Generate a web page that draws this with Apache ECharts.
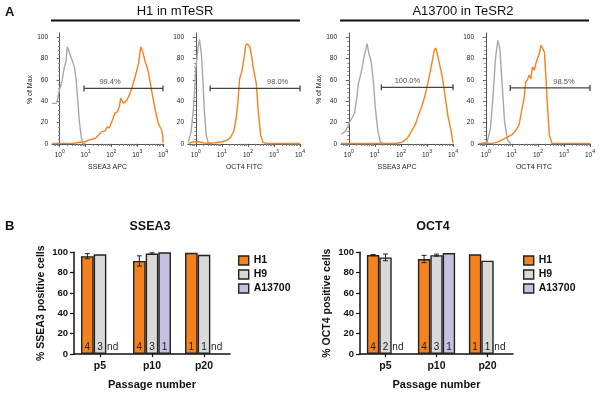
<!DOCTYPE html>
<html><head><meta charset="utf-8">
<script src="https://cdn.jsdelivr.net/npm/echarts@6/dist/echarts.min.js"></script>
<style>html,body{margin:0;padding:0;background:#fff}#c{width:600px;height:398px}</style>
</head><body><div id="c"></div>
<script>
// ===== Panel A: flow cytometry histograms. x = log10(fluorescence) in decades, y = % of Max
const h1SseaIso = [[-0.3,38],[-0.25,37],[-0.14,38],[-0.09,41],[-0.02,50],[0.08,58],[0.17,71],[0.24,77],[0.29,91],[0.33,89],[0.37,86],[0.43,86],[0.50,77],[0.57,72],[0.63,61],[0.70,40],[0.76,21],[0.83,7],[0.89,0.5],[1.0,0]];
const h1SseaPos = [[-0.3,0.5],[0.53,0.5],[0.79,1.5],[0.98,2],[1.17,4],[1.37,5],[1.50,8],[1.63,11.5],[1.75,12],[1.84,16],[1.92,15],[2.02,21],[2.14,29],[2.23,30],[2.31,35],[2.36,43],[2.47,38],[2.60,41],[2.70,46],[2.79,52],[2.92,63],[3.05,75],[3.14,91],[3.22,86],[3.30,78],[3.43,68],[3.56,50],[3.69,33],[3.82,19],[3.95,13],[3.99,8],[4.0,1]];
const h1Oct4Iso = [[-0.29,2],[-0.18,11.5],[-0.09,33],[0,71],[0.08,89],[0.14,98],[0.21,86],[0.27,61],[0.33,30],[0.40,8],[0.47,1.5],[0.6,0]];
const h1Oct4Pos = [[-0.29,0.5],[-0.09,2],[0.10,2],[0.30,1],[0.42,0.5],[0.75,1],[1.01,2],[1.20,3.5],[1.33,6],[1.46,12],[1.55,24],[1.62,40],[1.68,61],[1.76,67],[1.85,80],[1.91,92],[1.98,94],[2.07,91],[2.14,83],[2.20,72],[2.27,71],[2.32,57],[2.40,30],[2.49,8],[2.58,1.6],[2.69,0.4],[4.0,0.4]];
const a137SseaIso = [[-0.3,9],[-0.14,11.5],[0.05,21],[0.22,28.7],[0.31,44],[0.37,56.7],[0.48,67.6],[0.57,80],[0.70,94],[0.76,86],[0.86,77],[0.95,56.7],[1.02,33],[1.12,11.5],[1.21,2.1],[1.30,0]];
const a137SseaPos = [[-0.3,0.3],[1.79,0.3],[2.05,1.6],[2.25,5.3],[2.41,12],[2.57,19],[2.70,28.7],[2.83,37],[2.96,49],[3.06,60],[3.16,72],[3.28,88],[3.34,90],[3.41,83],[3.47,81.6],[3.58,64],[3.67,49],[3.80,27],[3.93,11.5],[3.99,10],[4.0,1]];
const a137Oct4Iso = [[-0.27,0],[0.05,1.6],[0.18,14.6],[0.27,42.7],[0.37,80],[0.46,97],[0.54,89.4],[0.63,55],[0.72,21],[0.83,3.7],[0.96,0]];
const a137Oct4Pos = [[-0.27,0.5],[0.24,0.5],[0.50,2.1],[0.76,5.3],[0.99,8.4],[1.12,11.5],[1.28,18],[1.38,31.8],[1.47,42.7],[1.53,58],[1.60,60],[1.66,64.5],[1.73,61],[1.79,72.3],[1.86,69],[1.92,75.4],[1.99,73.8],[2.05,84.7],[2.12,92.5],[2.18,89.4],[2.25,86],[2.31,61],[2.38,30],[2.44,8.4],[2.54,0.6],[4.0,0.3]];
// gates: [start decade, end decade, % level]; gate labels: [decade, % level]
const h1SseaGate = [0.94, 4.0, 52],  h1SseaGateLabel = [1.95, 58];
const h1Oct4Gate = [0.55, 4.0, 52],  h1Oct4GateLabel = [3.14, 58];
const a137SseaGate = [1.25, 4.0, 53], a137SseaGateLabel = [2.25, 59];
const a137Oct4Gate = [0.94, 4.0, 52.5], a137Oct4GateLabel = [3.0, 58.5];
const gateTexts = ['99.4%', '98.0%', '100.0%', '98.5%'];
const decadeTicks = [0, 1, 2, 3, 4];
const pctTicks = [0, 20, 40, 60, 80, 100];

// ===== Panel B: % positive cells by passage
const passages = ['p5', 'p10', 'p20'];
const lines = ['H1', 'H9', 'A13700'];
const sseaH1 = [96.2, 91.5, 99.5],  sseaH1Err = [2.5, 5.0, 0];
const sseaH9 = [98.0, 98.8, 97.6],  sseaH9Err = [0, 0.7, 0];
const sseaA  = [null, 100, null],   sseaAErr  = [0, 0, 0];
const sseaH1N = [4, 4, 1], sseaH9N = [3, 3, 1], sseaAN = ['nd', 1, 'nd'];
const octH1 = [97.3, 93.4, 98.0],   octH1Err = [0.5, 3.6, 0];
const octH9 = [95.0, 97.2, 91.8],   octH9Err = [3.3, 1.0, 0];
const octA  = [null, 99.2, null],   octAErr  = [0, 0, 0];
const octH1N = [4, 4, 1], octH9N = [2, 3, 1], octAN = ['nd', 1, 'nd'];

const FONT = '"Liberation Sans", Arial, sans-serif';
const ORANGE = '#f5821f', GRAY = '#a8a8a8';
const BAR_COLORS = ['#f5821f', '#d9d9d9', '#c6c1e2'];
const CAT_GAP = 0.27;

const chart = echarts.init(document.getElementById('c'));
const grids = [], xAxes = [], yAxes = [], series = [];

const minorX = [];
for (let n = -1; n < 4; n++) for (let k = 2; k < 10; k++) { const v = n + Math.log10(k); if (v >= -0.3 && v <= 4) minorX.push(v); }
const minorY = []; for (let v = 0; v <= 100; v += 4) minorY.push(v);

const panels = [
  {left: 52, width: 111, iso: h1SseaIso, pos: h1SseaPos, gate: h1SseaGate, gl: h1SseaGateLabel, xname: 'SSEA3 APC', yname: '% of Max'},
  {left: 188, width: 112, iso: h1Oct4Iso, pos: h1Oct4Pos, gate: h1Oct4Gate, gl: h1Oct4GateLabel, xname: 'OCT4 FITC', yname: ''},
  {left: 341, width: 112, iso: a137SseaIso, pos: a137SseaPos, gate: a137SseaGate, gl: a137SseaGateLabel, xname: 'SSEA3 APC', yname: '% of Max'},
  {left: 478, width: 112, iso: a137Oct4Iso, pos: a137Oct4Pos, gate: a137Oct4Gate, gl: a137Oct4GateLabel, xname: 'OCT4 FITC', yname: ''}
];

panels.forEach((p, i) => {
  grids.push({left: p.left, top: 33, width: p.width, height: 113});
  const axLine = {show: true, lineStyle: {color: '#555', width: 1}};
  xAxes.push({type: 'value', gridIndex: i, min: -0.3, max: 4, axisLine: axLine, splitLine: {show: false},
    name: p.xname, nameLocation: 'middle', nameGap: 18,
    nameTextStyle: {fontSize: 7, color: '#222', fontFamily: FONT},
    axisTick: {show: true, customValues: decadeTicks, length: 3, lineStyle: {color: '#555'}},
    axisLabel: {customValues: decadeTicks, margin: 3, formatter: v => '{b|10}{s|' + v + '}',
      rich: {b: {fontSize: 6.5, color: '#222', fontFamily: FONT, lineHeight: 10, verticalAlign: 'bottom'},
             s: {fontSize: 5, color: '#222', fontFamily: FONT, lineHeight: 6, verticalAlign: 'top'}}}});
  xAxes.push({type: 'value', gridIndex: i, min: -0.3, max: 4, position: 'bottom', axisLine: {show: false},
    splitLine: {show: false}, axisLabel: {show: false},
    axisTick: {show: true, customValues: minorX, length: 2, lineStyle: {color: '#777'}}});
  yAxes.push({type: 'value', gridIndex: i, min: -2, max: 104, axisLine: axLine, splitLine: {show: false},
    name: p.yname, nameLocation: 'middle', nameGap: 18,
    nameTextStyle: {fontSize: 7, color: '#222', fontFamily: FONT},
    axisTick: {show: true, customValues: pctTicks, length: 3, lineStyle: {color: '#555'}},
    axisLabel: {customValues: pctTicks, margin: 4, fontSize: 6.5, color: '#222', fontFamily: FONT}});
  yAxes.push({type: 'value', gridIndex: i, min: -2, max: 104, position: 'left', axisLine: {show: false},
    splitLine: {show: false}, axisLabel: {show: false},
    axisTick: {show: true, customValues: minorY, length: 1.5, lineStyle: {color: '#777'}}});
  const ax = {xAxisIndex: 2 * i, yAxisIndex: 2 * i};
  series.push({type: 'line', ...ax, data: p.iso, showSymbol: false, lineStyle: {color: GRAY, width: 1.4}, silent: true, z: 2});
  series.push({type: 'line', ...ax, data: p.pos, showSymbol: false, lineStyle: {color: ORANGE, width: 1.4}, silent: true, z: 3, clip: false});
  series.push({type: 'line', ...ax, data: [[p.gate[0], p.gate[2]], [p.gate[1], p.gate[2]]], symbol: 'rect',
    symbolSize: [1.3, 6], showSymbol: true, clip: false, lineStyle: {color: '#444', width: 1.3},
    itemStyle: {color: '#444'}, silent: true, z: 4});
  series.push({type: 'scatter', ...ax, data: [p.gl], symbolSize: 0, silent: true, z: 5,
    label: {show: true, position: 'inside', formatter: gateTexts[i], fontSize: 7.5, color: '#1a1a1a', fontFamily: FONT}});
});

// bar charts
const barSets = [
  {left: 74, width: 156, vals: [sseaH1, sseaH9, sseaA], errs: [sseaH1Err, sseaH9Err, sseaAErr], ns: [sseaH1N, sseaH9N, sseaAN], yname: '% SSEA3 positive cells'},
  {left: 360, width: 153, vals: [octH1, octH9, octA], errs: [octH1Err, octH9Err, octAErr], ns: [octH1N, octH9N, octAN], yname: '% OCT4 positive cells'}
];
barSets.forEach((b, j) => {
  const gi = 4 + j, ai = 8 + j;
  grids.push({left: b.left, top: 252.3, width: b.width, height: 101.7});
  xAxes.push({type: 'category', gridIndex: gi, data: passages,
    axisLine: {lineStyle: {color: '#111', width: 1.5}},
    axisTick: {show: true, alignWithLabel: true, length: 3, lineStyle: {color: '#111', width: 1.2}},
    axisLabel: {margin: 7, fontSize: 10.5, fontWeight: 'bold', color: '#111', fontFamily: FONT},
    name: 'Passage number', nameLocation: 'middle', nameGap: 25,
    nameTextStyle: {fontSize: 11, fontWeight: 'bold', color: '#111', fontFamily: FONT}});
  yAxes.push({type: 'value', gridIndex: gi, min: 0, max: 100, interval: 20, splitLine: {show: false},
    axisLine: {show: true, lineStyle: {color: '#111', width: 1.5}},
    axisTick: {show: true, length: 4, lineStyle: {color: '#111', width: 1.2}},
    axisLabel: {margin: 6, fontSize: 9.5, fontWeight: 'bold', color: '#111', fontFamily: FONT},
    name: b.yname, nameLocation: 'middle', nameGap: 27,
    nameTextStyle: {fontSize: 10.5, fontWeight: 'bold', color: '#111', fontFamily: FONT}});
  lines.forEach((ln, s) => {
    series.push({type: 'bar', name: ln, xAxisIndex: ai, yAxisIndex: ai, barGap: '0%', barCategoryGap: (CAT_GAP * 100) + '%',
      itemStyle: {color: BAR_COLORS[s], borderColor: '#222', borderWidth: 1.4},
      data: b.vals[s].map((v, k) => {
        const n = b.ns[s][k];
        if (v === null) return {value: 0, itemStyle: {color: 'rgba(0,0,0,0)', borderWidth: 0},
          label: {show: true, formatter: String(n)}};
        return {value: v, label: {show: true, formatter: String(n)}};
      }),
      label: {position: 'insideBottom', distance: 2, fontSize: 10, color: '#222', fontFamily: FONT},
      silent: true, z: 2});
  });
  lines.forEach((ln, s) => {
    const data = [];
    b.vals[s].forEach((v, k) => { if (v !== null && b.errs[s][k] > 0) data.push([k, v, b.errs[s][k]]); });
    series.push({type: 'custom', xAxisIndex: ai, yAxisIndex: ai, data, silent: true, z: 5,
      renderItem: (params, api) => {
        const ci = api.value(0), m = api.value(1), e = api.value(2);
        const c = api.coord([ci, m]);
        const bw = api.size([1, 0])[0] * (1 - CAT_GAP) / 3;
        const x = c[0] + (s - 1) * bw;
        const top = api.coord([ci, m + e])[1], bot = api.coord([ci, m - e])[1];
        const st = {stroke: '#222', lineWidth: 1};
        return {type: 'group', children: [
          {type: 'line', shape: {x1: x, y1: top, x2: x, y2: bot}, style: st},
          {type: 'line', shape: {x1: x - 2.5, y1: top, x2: x + 2.5, y2: top}, style: st},
          {type: 'line', shape: {x1: x - 2.5, y1: bot, x2: x + 2.5, y2: bot}, style: st}
        ]};
      }});
  });
});

const legendBase = {data: lines, orient: 'vertical', top: 255, itemWidth: 10, itemHeight: 9, itemGap: 3, padding: 0,
  icon: 'rect', selectedMode: false, itemStyle: {borderColor: '#222', borderWidth: 1.4},
  textStyle: {fontSize: 10.5, fontWeight: 'bold', color: '#111', fontFamily: FONT}};

chart.setOption({
  animation: false,
  grid: grids, xAxis: xAxes, yAxis: yAxes, series,
  legend: [Object.assign({left: 238}, legendBase), Object.assign({left: 523}, legendBase)],
  graphic: [
    {type: 'text', x: 5, y: 6, style: {text: 'A', font: 'bold 13px ' + FONT, fill: '#111'}},
    {type: 'text', x: 175, y: 11, style: {text: 'H1 in mTeSR', font: '13px ' + FONT, fill: '#111', textAlign: 'center', textVerticalAlign: 'middle'}},
    {type: 'line', shape: {x1: 51, y1: 20.5, x2: 300, y2: 20.5}, style: {stroke: '#111', lineWidth: 2}},
    {type: 'text', x: 463, y: 11, style: {text: 'A13700 in TeSR2', font: '13px ' + FONT, fill: '#111', textAlign: 'center', textVerticalAlign: 'middle'}},
    {type: 'line', shape: {x1: 340, y1: 20.5, x2: 589, y2: 20.5}, style: {stroke: '#111', lineWidth: 2}},
    {type: 'text', x: 5, y: 220, style: {text: 'B', font: 'bold 13px ' + FONT, fill: '#111'}},
    {type: 'text', x: 150, y: 227, style: {text: 'SSEA3', font: 'bold 12.5px ' + FONT, fill: '#111', textAlign: 'center', textVerticalAlign: 'middle'}},
    {type: 'text', x: 433, y: 227, style: {text: 'OCT4', font: 'bold 12.5px ' + FONT, fill: '#111', textAlign: 'center', textVerticalAlign: 'middle'}}
  ]
});
</script></body></html>
